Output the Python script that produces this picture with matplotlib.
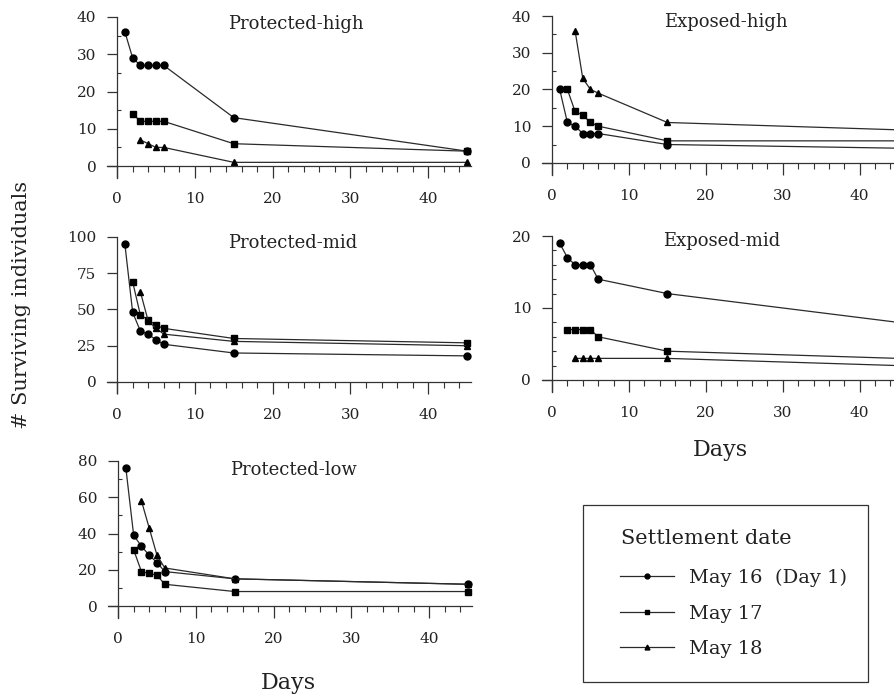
import matplotlib.pyplot as plt
from matplotlib.patches import Rectangle
from matplotlib.lines import Line2D
from matplotlib.ticker import MultipleLocator

plt.rcParams['font.family'] = 'DejaVu Serif'
plt.rcParams['font.size'] = 11

# days after May 16 on which each cohort was counted
days16 = [1, 2, 3, 4, 5, 6, 15, 45]
days17 = [2, 3, 4, 5, 6, 15, 45]
days18 = [3, 4, 5, 6, 15, 45]

# surviving individuals, per panel and settlement date
ph16 = [36, 29, 27, 27, 27, 27, 13, 4]
ph17 = [14, 12, 12, 12, 12, 6, 4]
ph18 = [7, 6, 5, 5, 1, 1]

eh16 = [20, 11, 10, 8, 8, 8, 5, 4]
eh17 = [20, 14, 13, 11, 10, 6, 6]
eh18 = [36, 23, 20, 19, 11, 9]

pm16 = [95, 48, 35, 33, 29, 26, 20, 18]
pm17 = [69, 46, 43, 39, 37, 30, 27]
pm18 = [62, 42, 37, 33, 28, 25]

em16 = [19, 17, 16, 16, 16, 14, 12, 8]
em17 = [7, 7, 7, 7, 6, 4, 3]
em18 = [3, 3, 3, 3, 3, 2]

pl16 = [76, 39, 33, 28, 24, 19, 15, 12]
pl17 = [31, 19, 18, 17, 12, 8, 8]
pl18 = [58, 43, 28, 21, 15, 12]

labels = ['May 16  (Day 1)', 'May 17', 'May 18']
markers = ['o', 's', '^']
msizes = [5, 4.5, 5]
lc = '#2a2a2a'
tc = '#222222'

W, H = 894, 695
def rect(x0, ytop, w, h):
    return [x0 / W, 1 - (ytop + h) / H, w / W, h / H]

panels = [
    ('Protected-high', (ph16, ph17, ph18), rect(107, 17, 364, 161), (-3.2, 40), 10, 5, (0.52, 0.955)),
    ('Exposed-high', (eh16, eh17, eh18), rect(542, 16, 360, 159), (-3.3, 40), 10, 5, (0.51, 0.96)),
    ('Protected-mid', (pm16, pm17, pm18), rect(107, 237, 364, 156), (-7.6, 100), 25, None, (0.51, 0.96)),
    ('Exposed-mid', (em16, em17, em18), rect(542, 236, 360, 156), (-1.67, 20), 10, 2, (0.50, 0.965)),
    ('Protected-low', (pl16, pl17, pl18), rect(108, 461, 364, 157), (-6.6, 80), 20, 10, (0.51, 0.945)),
]

fig = plt.figure(figsize=(W / 100, H / 100), dpi=100)

for title, series, r, ylim, ymaj, ymin, tpos in panels:
    ax = fig.add_axes(r)
    for days, vals, m, ms in zip((days16, days17, days18), series, markers, msizes):
        ax.plot(days, vals, color=lc, lw=0.9, marker=m, ms=ms, mfc='black', mec='black')
    ax.set_xlim(-1.3, 45.5)
    ax.set_ylim(*ylim)
    ax.spines['top'].set_visible(False)
    ax.spines['right'].set_visible(False)
    ax.spines['left'].set_position(('data', 0))
    ax.spines['bottom'].set_position(('data', 0))
    for s in ('left', 'bottom'):
        ax.spines[s].set_color('#333333')
        ax.spines[s].set_linewidth(0.9)
    ax.xaxis.set_major_locator(MultipleLocator(10))
    ax.xaxis.set_minor_locator(MultipleLocator(2))
    ax.yaxis.set_major_locator(MultipleLocator(ymaj))
    if ymin:
        ax.yaxis.set_minor_locator(MultipleLocator(ymin))
    ax.tick_params(axis='x', which='major', direction='out', length=8.5, width=0.9, pad=10, colors='#333333', labelcolor=tc)
    ax.tick_params(axis='x', which='minor', direction='out', length=4.5, width=0.8, colors='#333333')
    ax.tick_params(axis='y', which='major', direction='out', length=7, width=0.9, pad=8, colors='#333333', labelcolor=tc)
    ax.tick_params(axis='y', which='minor', direction='in', length=3, width=0.8, colors='#333333')
    ax.patch.set_visible(False)
    ax.text(tpos[0], tpos[1], title, transform=ax.transAxes, ha='center', va='center', fontsize=13, color=tc)

fig.text(22 / W, 1 - 305 / H, '# Surviving individuals', rotation=90, ha='center', va='center', fontsize=15, color=tc)
fig.text(288 / W, 1 - 683 / H, 'Days', ha='center', va='center', fontsize=16, color=tc)
fig.text(720 / W, 1 - 450 / H, 'Days', ha='center', va='center', fontsize=16, color=tc)

# legend: title, entries and frame placed separately
fig.text(621 / W, 1 - 538 / H, 'Settlement date', ha='left', va='center', fontsize=15, color=tc)
handles = [Line2D([], [], color=lc, lw=0.9, marker=m, ms=3.5, mfc='black', mec='black') for m in markers]
fig.legend(handles, labels, loc='upper left', bbox_to_anchor=(620 / W, 1 - 569 / H),
           frameon=False, borderpad=0, borderaxespad=0, handlelength=2.8, handletextpad=0.75,
           labelspacing=0.9, fontsize=14, labelcolor=tc)
fig.add_artist(Rectangle((583 / W, 1 - 682 / H), 285 / W, 177 / H, transform=fig.transFigure,
                         fill=False, lw=0.9, ec='#333333'))

fig.savefig('out.png', dpi=100)
